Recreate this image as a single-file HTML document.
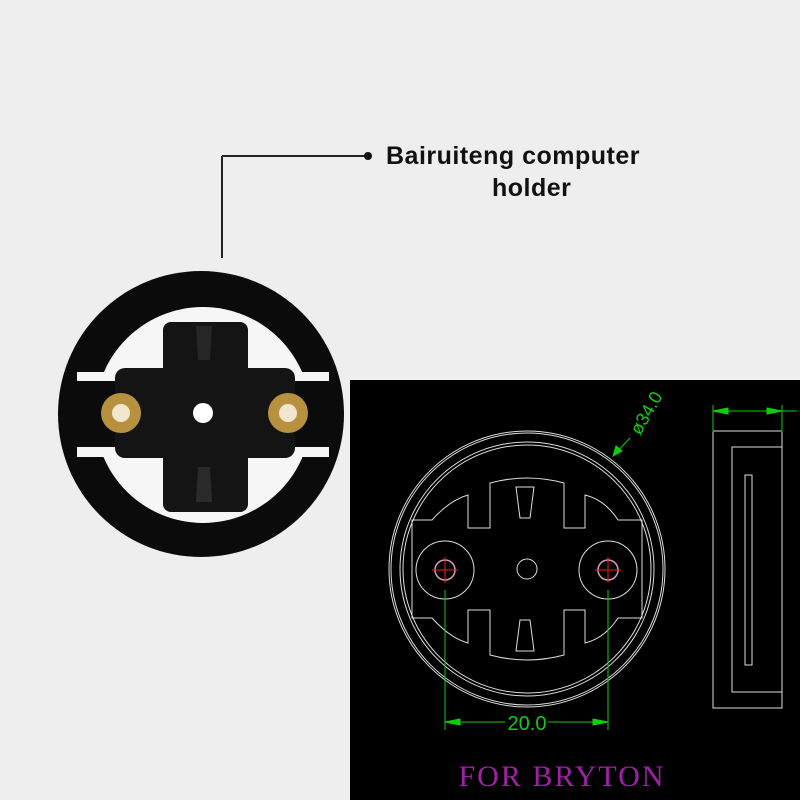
<!DOCTYPE html>
<html><head><style>
body{margin:0;width:800px;height:800px;background:#eeeeee;overflow:hidden;position:relative;font-family:"Liberation Sans",sans-serif}
.t{position:absolute;font-weight:bold;font-size:25px;color:#111;letter-spacing:0.5px}
</style></head><body>
<svg width="800" height="800" style="position:absolute;left:0;top:0">
<line x1="222" y1="258" x2="222" y2="156" stroke="#222" stroke-width="2"/>
<line x1="222" y1="156" x2="368" y2="156" stroke="#222" stroke-width="2"/>
<circle cx="368" cy="156" r="4" fill="#111"/>
<circle cx="201" cy="414" r="143" fill="#0b0b0b"/>
<circle cx="203" cy="415" r="108" fill="#f6f6f6"/>
<rect x="77" y="372" width="252" height="85" fill="#f6f6f6"/>
<rect x="70" y="381" width="266" height="66" fill="#0b0b0b"/>
<rect x="163" y="322" width="85" height="190" rx="8" fill="#141414"/>
<rect x="115" y="368" width="180" height="90" rx="10" fill="#141414"/>
<path d="M196 326 L212 326 L210 360 L198 360Z" fill="#262626"/>
<path d="M198 467 L210 467 L212 502 L196 502Z" fill="#2a2a2a"/>
<circle cx="121" cy="413" r="20" fill="#b8913f"/><circle cx="121" cy="413" r="9" fill="#f2e6d0"/>
<circle cx="288" cy="413" r="20" fill="#b8913f"/><circle cx="288" cy="413" r="9" fill="#f2e6d0"/>
<circle cx="203" cy="413" r="10" fill="#fff"/>
<rect x="350" y="380" width="450" height="420" fill="#000"/>
<g fill="none" stroke="#ddd" stroke-width="1">
<circle cx="527" cy="569" r="138"/><circle cx="527" cy="569" r="136"/>
<circle cx="527" cy="569" r="127"/><circle cx="527" cy="569" r="124"/>
<path d="M412 520 L432 520 Q450 500 468 495 L468 528 L490 528 L490 483 Q527 473 564 483 L564 528 L585 528 L585 495 Q605 500 618 520 L642 520 L642 618 L618 618 Q605 638 585 643 L585 610 L564 610 L564 655 Q527 665 490 655 L490 610 L468 610 L468 643 Q450 638 432 618 L412 618 Z"/>
<path d="M516 487 L534 487 L530 518 L520 518Z M516 651 L534 651 L530 620 L520 620Z"/>
<circle cx="527" cy="569" r="10"/>
<circle cx="445" cy="570" r="29"/><circle cx="608" cy="570" r="29"/>
<rect x="713" y="431" width="69" height="277"/>
<rect x="732" y="447" width="50" height="245"/>
<path d="M745 475 L752 475 L752 665 L745 665 Z"/>
</g>
<circle cx="445" cy="570" r="10" fill="none" stroke="#d9b" stroke-width="1.5"/>
<circle cx="608" cy="570" r="10" fill="none" stroke="#d9b" stroke-width="1.5"/>
<g stroke="#e22" stroke-width="1"><line x1="432" y1="570" x2="458" y2="570"/><line x1="445" y1="557" x2="445" y2="583"/><line x1="595" y1="570" x2="621" y2="570"/><line x1="608" y1="557" x2="608" y2="583"/></g>
<g stroke="#1c1" stroke-width="1" fill="#1c1">
<line x1="445" y1="590" x2="445" y2="730"/><line x1="608" y1="590" x2="608" y2="730"/>
<line x1="445" y1="722" x2="505" y2="722"/><line x1="548" y1="722" x2="608" y2="722"/>
<path d="M445 722 L460 719 L460 725Z M608 722 L593 719 L593 725Z"/>
<line x1="613" y1="456" x2="630" y2="438"/><path d="M613 456 L616 446 L622 451Z"/>
<line x1="713" y1="405" x2="713" y2="432"/><line x1="782" y1="405" x2="782" y2="432"/>
<line x1="713" y1="411" x2="797" y2="411"/>
<path d="M713 411 L728 408 L728 414Z M782 411 L767 408 L767 414Z"/>
</g>
<text x="527" y="730" fill="#1c1" font-size="20" font-family="Liberation Sans" text-anchor="middle">20.0</text>
<text x="0" y="0" fill="#1c1" font-size="18" font-family="Liberation Sans" transform="translate(640,436) rotate(-60)">ø34.0</text>
<text x="562" y="786" fill="#a020a8" font-size="30" font-family="Liberation Serif" text-anchor="middle" letter-spacing="2">FOR BRYTON</text>
</svg>
<div class="t" style="left:386px;top:142px">Bairuiteng computer</div>
<div class="t" style="left:492px;top:174px">holder</div>
</body></html>
